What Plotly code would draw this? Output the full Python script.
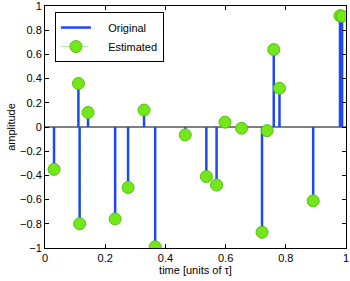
import plotly.graph_objects as go

# time positions (units of tau) and amplitudes
orig_t = [0.030, 0.111, 0.115, 0.143, 0.233, 0.276, 0.329, 0.366, 0.466, 0.536,
          0.570, 0.598, 0.653, 0.721, 0.738, 0.760, 0.779, 0.891, 0.980, 0.987]
orig_amp = [-0.35, 0.36, -0.80, 0.12, -0.76, -0.50, 0.14, -0.99, -0.065, -0.41,
            -0.48, 0.04, -0.01, -0.87, -0.03, 0.64, 0.32, -0.61, 0.92, 0.915]
est_t = orig_t
est_amp = orig_amp

x_ticks = [0, 0.2, 0.4, 0.6, 0.8, 1]
y_ticks = [-1, -0.8, -0.6, -0.4, -0.2, 0, 0.2, 0.4, 0.6, 0.8, 1]


def stems(ts, vs):
    xs, ys = [], []
    for t, v in zip(ts, vs):
        xs += [t, t, None]
        ys += [0, v, None]
    return xs, ys


blue = '#1f48f0'
green = '#72e81a'
green_edge = '#58c010'

fig = go.Figure()
ex, ey = stems(est_t, est_amp)
fig.add_trace(go.Scatter(x=ex, y=ey, mode='lines', showlegend=False,
                         line=dict(color='#a8f0a0', width=1, dash='dash'), hoverinfo='skip'))
ox, oy = stems(orig_t, orig_amp)
fig.add_trace(go.Scatter(x=ox, y=oy, mode='lines', name='\u00a0\u00a0\u00a0\u00a0Original',
                         line=dict(color=blue, width=2.5)))
fig.add_trace(go.Scatter(x=est_t, y=est_amp, mode='markers', showlegend=False,
                         marker=dict(color=green, size=12, line=dict(color=green_edge, width=1))))
fig.add_trace(go.Scatter(x=[None], y=[None], mode='lines+markers',
                         name='\u00a0\u00a0\u00a0\u00a0Estimated',
                         line=dict(color='#a8f0a0', width=1, dash='dash'),
                         marker=dict(color=green, size=12, line=dict(color=green_edge, width=1))))

axis_common = dict(showgrid=False, showline=True, linecolor='black', linewidth=1,
                   mirror='ticks', ticks='inside', ticklen=4, tickcolor='black',
                   automargin=False, ticklabeloverflow='allow',
                   tickfont=dict(family='Liberation Sans, Arial, sans-serif', size=11, color='black'))

fig.update_layout(
    width=350, height=281,
    margin=dict(l=45, r=4, t=6, b=33),
    paper_bgcolor='white', plot_bgcolor='white',
    font=dict(family='Liberation Sans, Arial, sans-serif', size=11, color='black'),
    xaxis=dict(range=[0, 1], tickvals=x_ticks, ticktext=[f'{v:g}' for v in x_ticks],
               zeroline=False,
               title=dict(text='time [units of τ]', standoff=3, font=dict(size=11)),
               **axis_common),
    yaxis=dict(range=[-1, 1], tickvals=y_ticks,
               ticktext=[f'{v:g}'.replace('-', '−') for v in y_ticks],
               zeroline=True, zerolinecolor='#808080', zerolinewidth=1.5,
               title=dict(text='amplitude', standoff=2, font=dict(size=11)),
               **axis_common),
    legend=dict(x=0.033, y=0.975, xanchor='left', yanchor='top',
                bgcolor='white', bordercolor='black', borderwidth=1,
                font=dict(size=11), tracegroupgap=0),
    showlegend=True,
)

fig.write_html('out.html', config={'displayModeBar': False},
               post_script="document.body.style.margin='0';")
